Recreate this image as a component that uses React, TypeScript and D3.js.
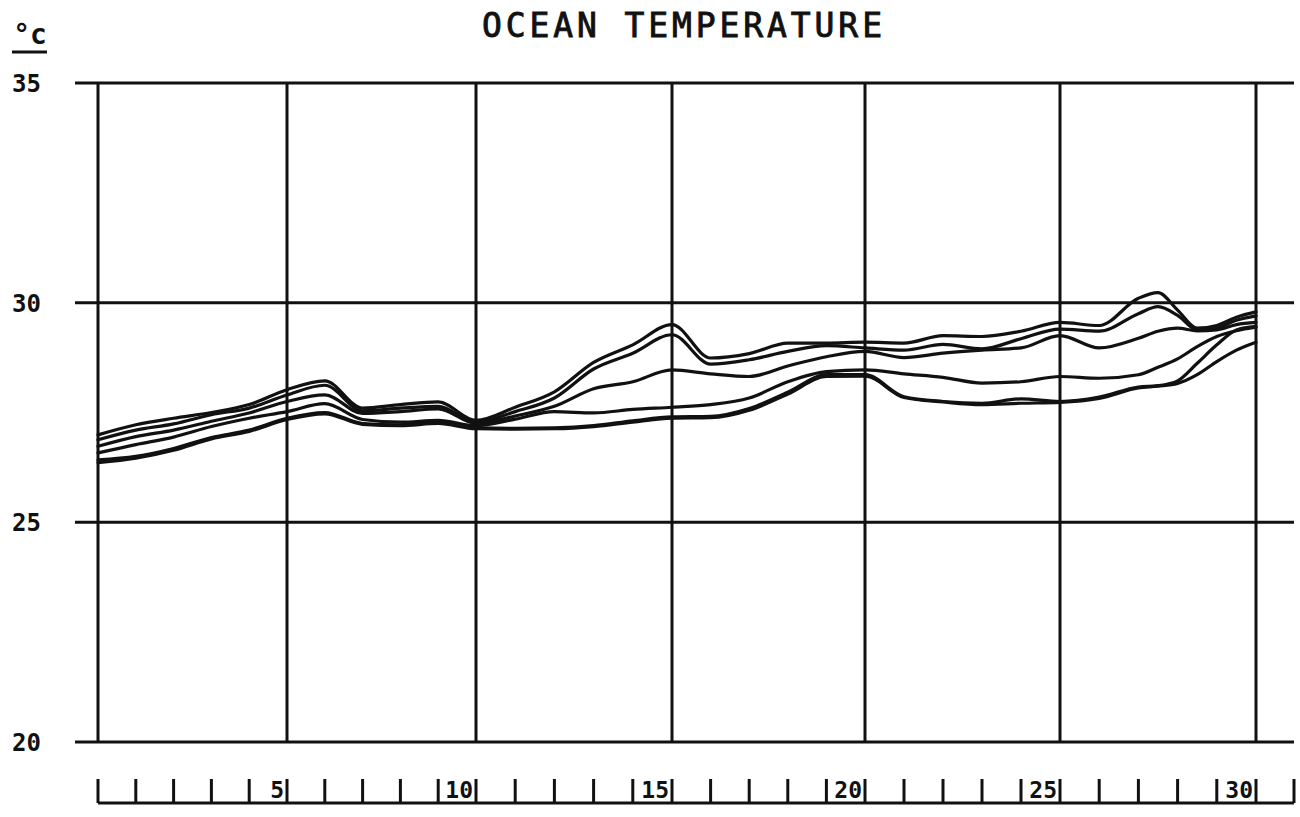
import React from "react";
import * as d3 from "d3";

const days = [0,1,2,3,4,5,6,7,8,9,10,11,12,13,14,15,16,17,18,19,20,21,22,23,24,25,26,27,27.5,28,28.5,29,29.5,30];

const seriesA = [26.99,27.22,27.37,27.5,27.68,28.02,28.22,27.6,27.68,27.74,27.32,27.62,27.97,28.64,29.04,29.5,28.74,28.84,29.08,29.08,29.1,29.08,29.25,29.23,29.35,29.55,29.48,30.1,30.23,29.83,29.42,29.48,29.67,29.79];
const seriesB = [26.88,27.1,27.24,27.45,27.6,27.9,28.12,27.54,27.6,27.64,27.28,27.52,27.83,28.49,28.85,29.27,28.6,28.7,28.89,29.02,28.97,28.92,29.05,28.95,29.18,29.4,29.35,29.75,29.91,29.71,29.38,29.42,29.6,29.7];
const seriesC = [26.73,26.95,27.1,27.3,27.49,27.75,27.9,27.48,27.52,27.58,27.25,27.42,27.64,28.04,28.2,28.47,28.38,28.32,28.56,28.77,28.89,28.75,28.85,28.92,28.97,29.25,28.97,29.19,29.35,29.42,29.36,29.38,29.5,29.55];
const seriesD = [26.58,26.77,26.94,27.18,27.37,27.52,27.7,27.34,27.28,27.32,27.2,27.35,27.52,27.49,27.57,27.62,27.68,27.83,28.2,28.43,28.47,28.38,28.3,28.17,28.2,28.32,28.28,28.36,28.53,28.72,29.0,29.23,29.36,29.44];
const seriesE = [26.42,26.5,26.68,26.93,27.1,27.37,27.5,27.25,27.22,27.27,27.15,27.14,27.15,27.2,27.31,27.4,27.41,27.59,27.96,28.36,28.36,27.86,27.75,27.71,27.81,27.75,27.85,28.08,28.11,28.22,28.62,29.04,29.38,29.46];
const seriesF = [26.36,26.46,26.64,26.9,27.07,27.34,27.47,27.23,27.2,27.25,27.13,27.12,27.13,27.18,27.28,27.37,27.38,27.55,27.92,28.32,28.33,27.84,27.74,27.68,27.71,27.73,27.82,28.06,28.1,28.16,28.36,28.66,28.92,29.1];

const allSeries = [seriesA, seriesB, seriesC, seriesD, seriesE, seriesF];

const yTicks = [20, 25, 30, 35];
const yTickLabels = ["20", "25", "30", "35"];
const xGridDays = [0, 5, 10, 15, 20, 25, 30];
const xTickDays = d3.range(0, 32);
const xLabelDays = [5, 10, 15, 20, 25, 30];
const title = "OCEAN TEMPERATURE";
const unitLabel = "°c";

export default function App() {
  const x = d3.scaleLinear()
    .domain([0, 5, 10, 15, 20, 25, 30, 31])
    .range([98, 287, 476, 672, 865, 1060, 1256, 1294]);
  const y = d3.scaleLinear().domain([20, 35]).range([742, 83]);

  const line = d3.line<number>()
    .x((_, i) => x(days[i]))
    .y((v) => y(v))
    .curve(d3.curveMonotoneX);

  const axisY = 803;
  const numFont = "'DejaVu Sans Mono', monospace";

  return (
    <div style={{ position: "absolute", left: 0, top: 0 }}>
      <svg width={1300} height={817} style={{ display: "block", background: "#fff" }}>
        <rect x={0} y={0} width={1300} height={817} fill="#fff" />
        {/* title */}
        <text x={482} y={37} fontFamily={numFont} fontSize={33} fill="#111"
          stroke="#111" strokeWidth={0.9}
          textLength={400} lengthAdjust="spacing">{title}</text>
        {/* unit */}
        <text x={30} y={44} textAnchor="middle" fontFamily={numFont} fontWeight="bold" fontSize={28} fill="#111">{unitLabel}</text>
        <line x1={12} x2={47} y1={52} y2={52} stroke="#111" strokeWidth={3} />

        {/* horizontal grid lines */}
        {yTicks.map((t, i) => (
          <g key={"h" + t}>
            <line x1={75} x2={1294} y1={y(t)} y2={y(t)} stroke="#111" strokeWidth={3} />
            <text x={12} y={y(t) + 9} fontFamily={numFont} fontWeight="bold" fontSize={24} fill="#111">{yTickLabels[i]}</text>
          </g>
        ))}
        {/* vertical grid lines */}
        {xGridDays.map((d) => (
          <line key={"v" + d} x1={x(d)} x2={x(d)} y1={y(35)} y2={y(20)} stroke="#111" strokeWidth={3} />
        ))}

        {/* data lines */}
        {allSeries.map((s, i) => (
          <path key={"s" + i} d={line(s) || ""} fill="none" stroke="#111" strokeWidth={3.2} strokeLinejoin="round" strokeLinecap="round" />
        ))}

        {/* bottom day axis */}
        <line x1={x(0)} x2={x(31)} y1={axisY} y2={axisY} stroke="#111" strokeWidth={3} />
        {xTickDays.map((d) => (
          <line key={"t" + d} x1={x(d)} x2={x(d)} y1={779} y2={axisY} stroke="#111" strokeWidth={3} />
        ))}
        {xLabelDays.map((d) => (
          <text key={"l" + d} x={x(d) - 3} y={798} textAnchor="end" fontFamily={numFont} fontWeight="bold" fontSize={23} fill="#111">{String(d)}</text>
        ))}
      </svg>
    </div>
  );
}
